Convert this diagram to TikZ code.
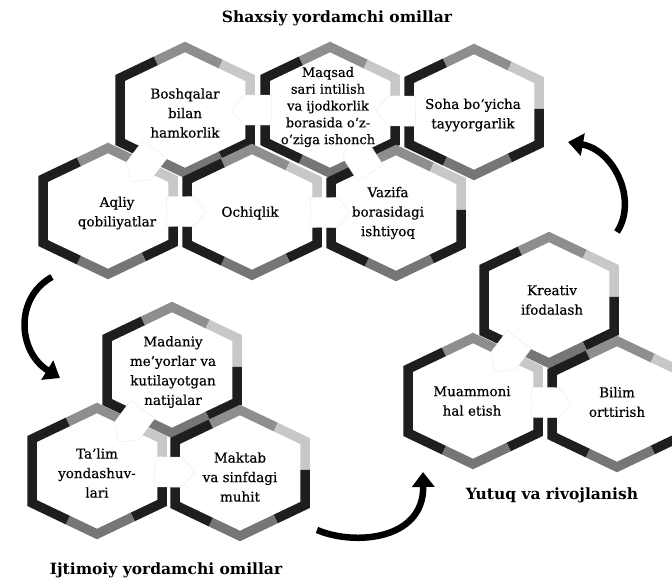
\documentclass[tikz,border=0pt]{standalone}
\usepackage{fontspec}
\setmainfont{DejaVu Serif}
\newfontfamily\hexfont{DejaVu Serif}[FakeBold=0.4]
\usetikzlibrary{calc,arrows.meta,shapes.arrows}
\pgfdeclarelayer{bg}
\pgfsetlayers{bg,main}
\definecolor{ringblack}{HTML}{1E1E1E}
\definecolor{ringgray}{HTML}{8E8E8E}
\definecolor{ringlight}{HTML}{C8C8C8}
\definecolor{ringdark}{HTML}{767676}
\def\hW{65}\def\hH{63}\def\hh{32}
\newcommand\hexring[1]{%
  \begin{scope}[shift={(#1)}]
    \coordinate (T) at (0,-\hH);
    \coordinate (UR) at (\hW,-\hh);
    \coordinate (LR) at (\hW,\hh);
    \coordinate (B) at (0,\hH);
    \coordinate (LL) at (-\hW,\hh);
    \coordinate (UL) at (-\hW,-\hh);
  \end{scope}
  \draw[ring,ringgray] ($(UL)!0.55!(T)$) -- (T) -- ($(T)!0.55!(UR)$);
  \draw[ring,ringlight] ($(T)!0.55!(UR)$) -- (UR) -- ($(UR)!0.45!(LR)$);
  \draw[ring,ringblack] ($(UR)!0.45!(LR)$) -- (LR) -- ($(LR)!0.45!(B)$);
  \draw[ring,ringdark] ($(LR)!0.45!(B)$) -- (B) -- ($(B)!0.45!(LL)$);
  \draw[ring,ringblack] ($(B)!0.45!(LL)$) -- (LL) -- (UL) -- ($(UL)!0.55!(T)$);
}
\newcommand\wconn[2]{%
  \path let \p1=($(#2)-(#1)$), \n1={atan2(\y1,\x1)} in
    node[conn, rotate=\n1] at ($(#1)!0.5!(#2)$) {};}
\begin{document}
\begin{tikzpicture}[x=1pt,y=-1pt,
  ring/.style={line width=9.5pt, line join=miter, line cap=butt},
  conn/.style={single arrow, single arrow head extend=0pt, single arrow tip angle=100,
    minimum height=40pt, minimum width=30pt, inner sep=0pt, fill=white,
    draw=black!8, line width=0.4pt},
  hext/.style={align=center, text=black, font=\hexfont\fontsize{13.5}{19.5}\selectfont, inner sep=0pt},
  head/.style={font=\fontsize{15.5}{18}\selectfont\bfseries, text=black, inner sep=0pt},
  bigarrow/.style={line width=6.5pt, line cap=butt, -{Triangle[length=15pt,width=22pt]}}]
\useasboundingbox (0,0) rectangle (672,579);
% hexagon centres
\coordinate (c-bosh) at (185,110);
\coordinate (c-maqsad) at (330,110);
\coordinate (c-soha) at (474,112);
\coordinate (c-aqliy) at (108,211);
\coordinate (c-ochiq) at (252,212);
\coordinate (c-vazifa) at (396,213);
\coordinate (c-madaniy) at (172,370);
\coordinate (c-talim) at (97,471);
\coordinate (c-maktab) at (240,473);
\coordinate (c-kreativ) at (549,300);
\coordinate (c-muammo) at (473,401);
\coordinate (c-bilim) at (617,404);
\begin{pgfonlayer}{bg}
  \fill[white] (0,0) rectangle (672,579);
  \foreach \h in {bosh,maqsad,soha,aqliy,ochiq,vazifa,madaniy,talim,maktab,kreativ,muammo,bilim}
    {\hexring{c-\h}}
  \wconn{c-maqsad}{c-bosh}
  \wconn{c-soha}{c-maqsad}
  \wconn{c-aqliy}{c-ochiq}
  \wconn{c-ochiq}{c-vazifa}
  \wconn{c-bosh}{c-aqliy}
  \wconn{c-vazifa}{c-maqsad}
  \wconn{c-madaniy}{c-talim}
  \wconn{c-talim}{c-maktab}
  \wconn{c-kreativ}{c-muammo}
  \wconn{c-muammo}{c-bilim}
\end{pgfonlayer}
% texts
\node[head] (t1) at (337,18) {Shaxsiy yordamchi omillar};
\node[head] (t2) at (166,570) {Ijtimoiy yordamchi omillar};
\node[head] (t3) at (552,495) {Yutuq va rivojlanish};
\node[hext] (bosh) at (185,113) {Boshqalar\\bilan\\hamkorlik};
\node[hext, font=\hexfont\fontsize{13}{16.8}\selectfont] (maqsad) at (328,107) {Maqsad\\sari intilish\\va ijodkorlik\\borasida o‘z-\\o‘ziga ishonch};
\node[hext] (soha) at (473,115) {Soha bo‘yicha\\tayyorgarlik};
\node[hext] (aqliy) at (117,213) {Aqliy\\qobiliyatlar};
\node[hext] (ochiq) at (250,213) {Ochiqlik};
\node[hext] (vazifa) at (388,213) {Vazifa\\borasidagi\\ishtiyoq};
\node[hext] (madaniy) at (173,372) {Madaniy\\me’yorlar va\\kutilayotgan\\natijalar};
\node[hext] (talim) at (97,473) {Ta’lim\\yondashuv-\\lari};
\node[hext] (maktab) at (240,477) {Maktab\\va sinfdagi\\muhit};
\node[hext] (kreativ) at (552,300) {Kreativ\\ifodalash};
\node[hext] (muammo) at (472,401) {Muammoni\\hal etish};
\node[hext] (bilim) at (617,402) {Bilim\\orttirish};
% curved arrows
\coordinate (a1s) at (52,277);
\coordinate (a1e) at (60,378);
\coordinate (a2s) at (317,530);
\coordinate (a2e) at (423,472);
\coordinate (a3s) at (617,232);
\coordinate (a3e) at (568,142);
\draw[bigarrow] (a1s) .. controls (14,298) and (18,352) .. (a1e);
\draw[bigarrow] (a2s) .. controls (355,546) and (424,540) .. (a2e);
\draw[bigarrow] (a3s) .. controls (638,200) and (614,150) .. (a3e);
\end{tikzpicture}
\end{document}
